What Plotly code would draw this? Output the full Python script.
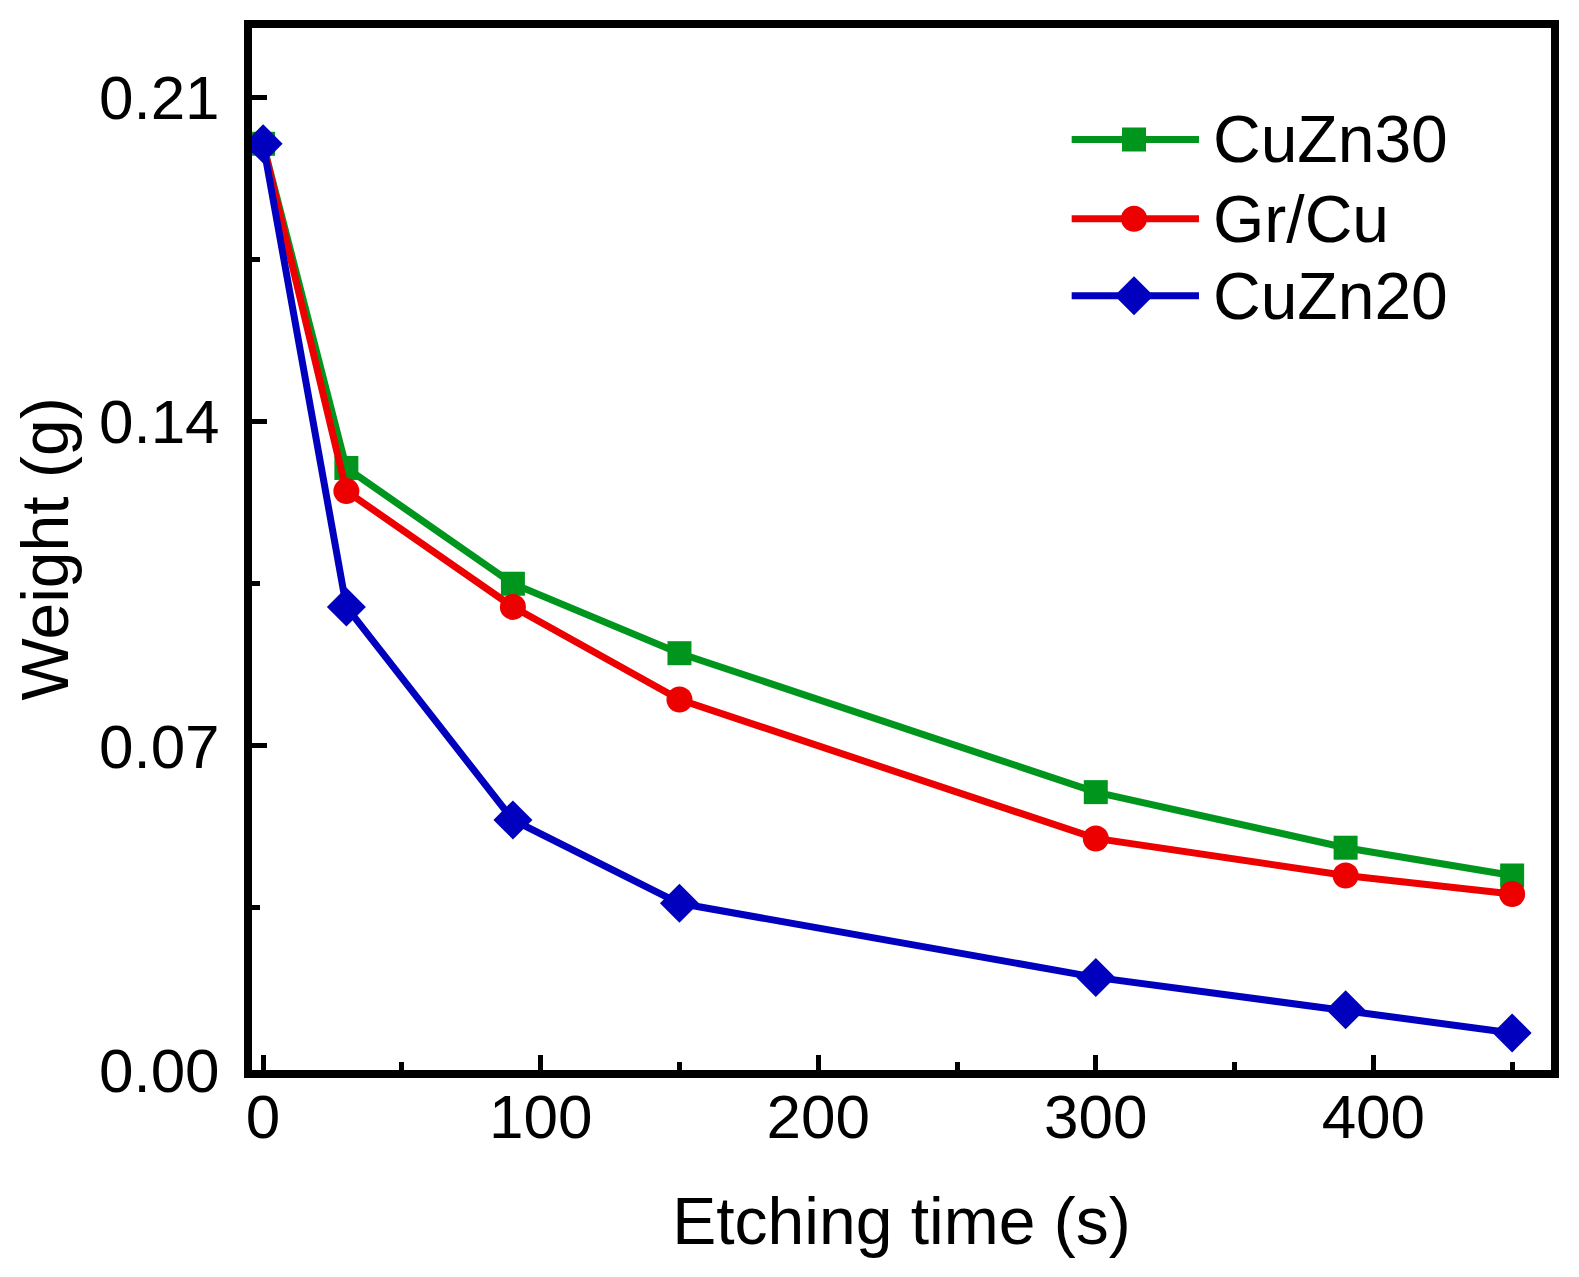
import plotly.graph_objects as go

# etching time (s)
etch_time = [0, 30, 90, 150, 300, 390, 450]

# sample weight (g) per material
cuzn30 = [0.200, 0.130, 0.105, 0.090, 0.060, 0.048, 0.042]
gr_cu = [0.200, 0.125, 0.100, 0.080, 0.050, 0.042, 0.038]
cuzn20 = [0.200, 0.100, 0.054, 0.036, 0.020, 0.013, 0.008]

series_names = ["CuZn30", "Gr/Cu", "CuZn20"]
x_ticks = [0, 100, 200, 300, 400]
y_ticks = [0.00, 0.07, 0.14, 0.21]

colors = ["#00961e", "#ec0000", "#0000be"]
symbols = ["square", "circle", "diamond"]
sizes = [24, 26, 30]
FONT = "Arial, Liberation Sans, sans-serif"

fig = go.Figure()

for name, ys, col, sym, sz in zip(series_names, [cuzn30, gr_cu, cuzn20], colors, symbols, sizes):
    fig.add_trace(go.Scatter(
        x=etch_time, y=ys,
        mode='lines+markers',
        name=name,
        line=dict(color=col, width=7),
        marker=dict(symbol=sym, size=sz, color=col),
        showlegend=False,
    ))

# hand-drawn legend (long sample lines like the original), on a hidden overlay axis
leg_y = [0.893, 0.817, 0.743]
for name, col, sym, sz, ly in zip(series_names, colors, symbols, sizes, leg_y):
    fig.add_shape(type="line", xref="x2", yref="y2", x0=0.631, x1=0.729, y0=ly, y1=ly,
                  line=dict(color=col, width=7))
    fig.add_trace(go.Scatter(
        x=[0.679], y=[ly], xaxis="x2", yaxis="y2",
        mode='markers', marker=dict(symbol=sym, size=sz, color=col),
        showlegend=False, hoverinfo='skip',
    ))
    fig.add_annotation(x=0.738, y=ly, xref="x2", yref="y2", text=name, showarrow=False,
                       xanchor="left", yanchor="middle", font=dict(family=FONT, size=66, color="black"))

axis_common = dict(
    showline=True, linecolor='black', linewidth=8, mirror=True,
    showgrid=False, zeroline=False,
    ticks='inside', ticklen=15, tickwidth=5, tickcolor='black',
    tickfont=dict(family=FONT, size=62, color='black'),
)

# page body has an 8px margin, so the figure is a bit smaller than the window
fig.update_layout(
    width=1563, height=1261,
    plot_bgcolor='white', paper_bgcolor='white',
    margin=dict(l=244, r=16, t=13, b=199),
    xaxis=dict(
        range=[-4, 464], tickvals=x_ticks,
        minor=dict(ticks='inside', ticklen=8, tickwidth=5, tickcolor='black', dtick=50, tick0=0),
        title=dict(text="Etching time (s)", font=dict(family=FONT, size=66, color='black'), standoff=50),
        ticklabelstandoff=-14,
        **axis_common,
    ),
    yaxis=dict(
        range=[0, 0.225], tickvals=y_ticks, tickformat='.2f',
        minor=dict(ticks='inside', ticklen=8, tickwidth=5, tickcolor='black', dtick=0.035, tick0=0),
        title=dict(text="Weight (g)", font=dict(family=FONT, size=66, color='black'), standoff=20),
        ticklabelstandoff=12,
        **axis_common,
    ),
    xaxis2=dict(overlaying='x', range=[0, 1], visible=False),
    yaxis2=dict(overlaying='y', range=[0, 1], visible=False),
)

fig.write_html("out.html")
